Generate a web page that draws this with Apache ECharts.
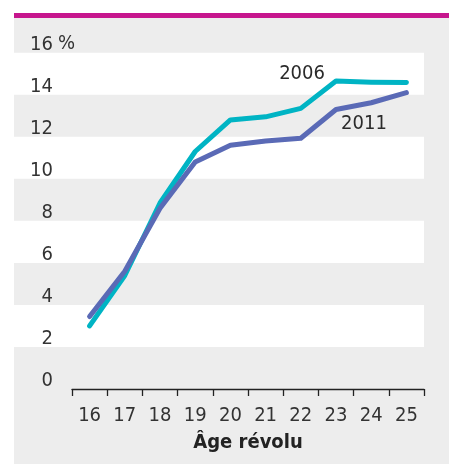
<!DOCTYPE html>
<html>
<head>
<meta charset="utf-8">
<script src="https://cdn.jsdelivr.net/npm/echarts@6/dist/echarts.min.js"></script>
<style>
  html, body { margin: 0; padding: 0; background: #fff; }
  #main { width: 449px; height: 464px; }
</style>
</head>
<body>
<div id="main"></div>
<script>
// data
var ages = ['16', '17', '18', '19', '20', '21', '22', '23', '24', '25'];
var yTicks = [0, 2, 4, 6, 8, 10, 12, 14, 16];
var taux2006 = [3.0, 5.4, 8.85, 11.3, 12.8, 12.95, 13.35, 14.65, 14.6, 14.58];
var taux2011 = [3.45, 5.6, 8.6, 10.8, 11.6, 11.8, 11.93, 13.3, 13.62, 14.1];

var font = "'Liberation Sans Narrow', 'DejaVu Sans Condensed', 'Roboto', sans-serif";

// put the series name next to one point
function withLabel(arr, idx, text, pos, off) {
  return arr.map(function (v, i) {
    if (i !== idx) return v;
    return {
      value: v,
      label: {
        show: true, formatter: text, position: pos, offset: off,
        fontFamily: font, fontSize: 20, color: '#2b2b2b'
      }
    };
  });
}

var chart = echarts.init(document.getElementById('main'));
chart.setOption({
  animation: false,
  graphic: [
    { type: 'rect', z: -100, shape: { x: 14, y: 18, width: 435, height: 446 }, style: { fill: '#ededed' } },
    { type: 'rect', z: -100, shape: { x: 14, y: 13, width: 435, height: 5 }, style: { fill: '#c6168d' } },
    { type: 'text', left: 58, top: 34, style: { text: '%', font: '20px ' + font, fill: '#333' } }
  ],
  grid: [
    { left: 72, right: 25, top: 52.7, bottom: 75 },
    // wider grid only for the white bands
    { left: 14, right: 25, top: 52.7, bottom: 75 }
  ],
  xAxis: [
    {
      type: 'category', data: ages, gridIndex: 0, boundaryGap: true,
      axisLine: { lineStyle: { color: '#222', width: 1.3 } },
      axisTick: { show: true, length: 7, inside: false, lineStyle: { color: '#222', width: 1.3 } },
      axisLabel: { margin: 17, fontFamily: font, fontSize: 20, color: '#333' },
      name: 'Âge révolu', nameLocation: 'middle', nameGap: 44,
      nameTextStyle: { fontFamily: font, fontSize: 20, fontWeight: 'bold', color: '#222' }
    },
    { type: 'value', gridIndex: 1, show: false, min: 0, max: 1 }
  ],
  yAxis: [
    {
      type: 'value', gridIndex: 0, min: 0, max: 16, interval: 2,
      axisLine: { show: false }, axisTick: { show: false }, splitLine: { show: false },
      axisLabel: {
        margin: 19, fontFamily: font, fontSize: 20, color: '#333',
        verticalAlign: 'bottom', lineHeight: 16,
        formatter: function (v) { return yTicks.indexOf(v) >= 0 ? String(v) : ''; }
      }
    },
    {
      type: 'value', gridIndex: 1, min: 0, max: 16, interval: 2,
      axisLine: { show: false }, axisTick: { show: false }, axisLabel: { show: false },
      splitLine: { show: false },
      splitArea: { show: true, areaStyle: { color: ['rgba(0,0,0,0)', '#ffffff'] } }
    }
  ],
  series: [
    {
      name: '2006', type: 'line', xAxisIndex: 0, yAxisIndex: 0,
      symbol: 'circle', symbolSize: 0.1, showSymbol: true,
      lineStyle: { color: '#00b4c4', width: 5, cap: 'round', join: 'round' },
      itemStyle: { color: '#00b4c4' },
      data: withLabel(taux2006, 7, '2006', 'left', [-6, -7])
    },
    {
      name: '2011', type: 'line', xAxisIndex: 0, yAxisIndex: 0,
      symbol: 'circle', symbolSize: 0.1, showSymbol: true,
      lineStyle: { color: '#5a6ab6', width: 5, cap: 'round', join: 'round' },
      itemStyle: { color: '#5a6ab6' },
      data: withLabel(taux2011, 7, '2011', 'right', [0, 14])
    }
  ]
});
</script>
</body>
</html>
